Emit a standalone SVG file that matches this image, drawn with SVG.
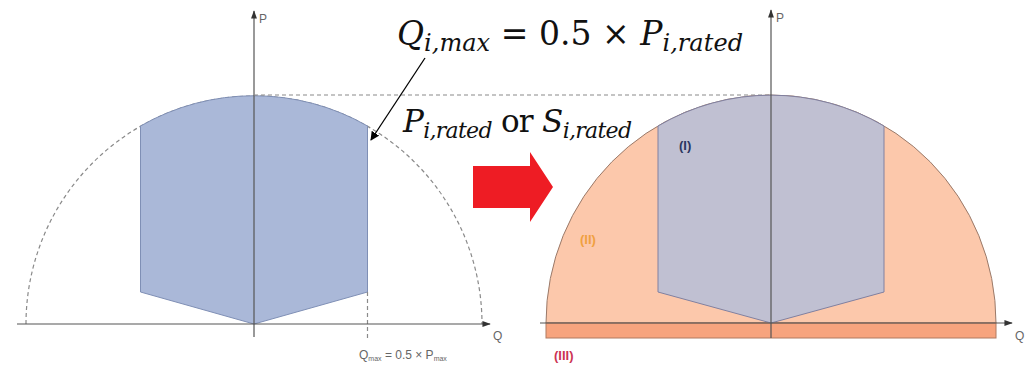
<svg xmlns="http://www.w3.org/2000/svg" width="1029" height="367" viewBox="0 0 1029 367">
<style>
.axis{stroke:#555;stroke-width:1.2;fill:none}
.dash{stroke:#8a8a8a;stroke-width:1.2;stroke-dasharray:4 3;fill:none}
.lbl{font-family:"Liberation Sans",Arial,sans-serif;font-size:12px;fill:#666}
.math{font-family:"DejaVu Serif","Liberation Serif",serif;fill:#111}
.it{font-style:italic}
.reg{font-family:"Liberation Sans",Arial,sans-serif;font-weight:bold;font-size:13px}
</style>
<defs>
<marker id="ax" viewBox="0 0 10 10" refX="9" refY="5" markerWidth="7" markerHeight="7" orient="auto"><path d="M0,1.5 L10,5 L0,8.5 Z" fill="#333"/></marker>
<marker id="blk" viewBox="0 0 10 10" refX="9" refY="5" markerWidth="9" markerHeight="9" orient="auto" markerUnits="userSpaceOnUse"><path d="M0,0 L10,5 L0,10 Z" fill="#000"/></marker>
</defs>
<rect width="1029" height="367" fill="#fff"/>

<g id="left-diagram">
<path class="dash" d="M26,324 A228,228 0 0 1 482,324"/>
<path d="M140.5,126 A228,228 0 0 1 367.5,126 L367.5,292 L254,324 L140.5,292 Z" fill="#aab8d8" stroke="#7f8fb5" stroke-width="1"/>
<line class="dash" x1="367.5" y1="292" x2="367.5" y2="338"/>
<line class="axis" x1="17" y1="324" x2="490" y2="324" marker-end="url(#ax)"/>
<line class="axis" x1="254" y1="337" x2="254" y2="11" marker-end="url(#ax)"/>
<text class="lbl" x="259" y="23">P</text>
<text class="lbl" x="493" y="340">Q</text>
<text class="lbl" x="359" y="359" font-size="13">Q<tspan font-size="7" dy="2">max</tspan><tspan dy="-2"> = 0.5 × P</tspan><tspan font-size="7" dy="2">max</tspan></text>
</g>

<g id="top-line">
<line class="dash" x1="254" y1="95" x2="771" y2="95"/>
</g>

<g id="red-arrow">
<polygon points="473,166 530,166 530,152 553,187 530,222 530,208 473,208" fill="#ee1c24"/>
</g>

<g id="right-diagram">
<path d="M546,323 A225,228 0 0 1 996,323 Z" fill="#fcc8ab" stroke="#9a7a6a" stroke-width="1"/>
<rect x="546" y="323" width="450" height="15" fill="#f7a47e" stroke="#b07a60" stroke-width="1"/>
<path d="M658,126 A225,228 0 0 1 884,126 L884,292 L771,323 L658,292 Z" fill="#c0c0d2" stroke="#8080a0" stroke-width="1"/>
<line class="axis" x1="540" y1="323" x2="1012" y2="323" marker-end="url(#ax)"/>
<line class="axis" x1="771" y1="338" x2="771" y2="10" marker-end="url(#ax)"/>
<text class="lbl" x="776" y="22">P</text>
<text class="lbl" x="1015" y="340">Q</text>
<text class="reg" x="679" y="150" fill="#2a3560">(I)</text>
<text class="reg" x="580" y="244" fill="#f0a040" font-size="12">(II)</text>
<text class="reg" x="554" y="360" fill="#cc3355">(III)</text>
</g>

<g id="connectors">
<line x1="425" y1="58" x2="371" y2="140" stroke="#000" stroke-width="1.3" marker-end="url(#blk)"/>
</g>

<g id="formula">
<text class="math" x="397" y="45" font-size="33" textLength="346" lengthAdjust="spacing"><tspan class="it">Q</tspan><tspan class="it" font-size="24" dy="6">i,max</tspan><tspan dy="-6"> = 0.5 × </tspan><tspan class="it">P</tspan><tspan class="it" font-size="24" dy="6">i,rated</tspan></text>
<text class="math" x="403" y="132" font-size="31" textLength="229" lengthAdjust="spacing"><tspan class="it">P</tspan><tspan class="it" font-size="22" dy="6">i,rated</tspan><tspan dy="-6"> or </tspan><tspan class="it">S</tspan><tspan class="it" font-size="22" dy="6">i,rated</tspan></text>
</g>
</svg>
